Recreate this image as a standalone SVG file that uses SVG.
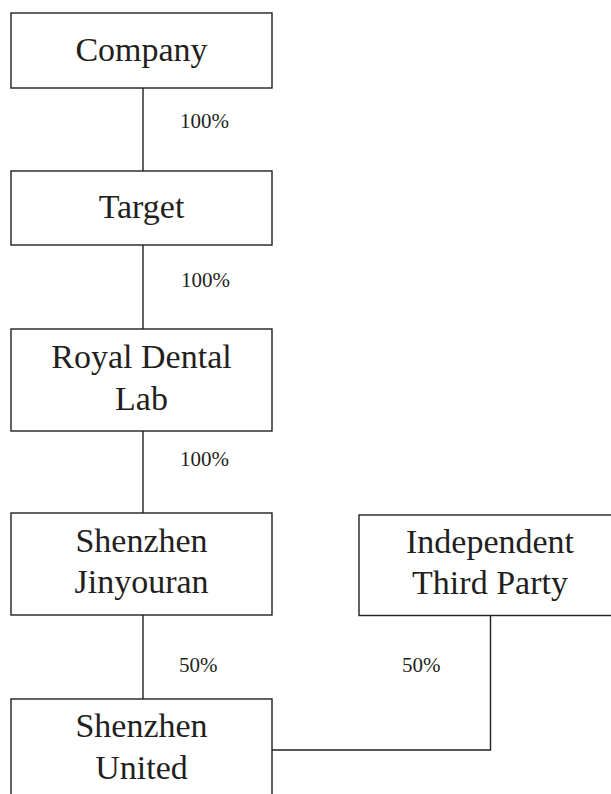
<svg xmlns="http://www.w3.org/2000/svg" width="611" height="794" viewBox="0 0 611 794">
<style>
.box{fill:#fff;stroke:#231f20;stroke-width:1.4}
.ln{fill:none;stroke:#231f20;stroke-width:1.4}
.t{font-family:"Liberation Serif","Times New Roman",serif;font-size:34px;fill:#231f20;text-anchor:middle}
.p{font-family:"Liberation Serif","Times New Roman",serif;font-size:21px;fill:#231f20}
</style>
<rect width="611" height="794" fill="#fff"/>
<g id="connectors">
<line class="ln" x1="143" y1="88" x2="143" y2="171"/>
<line class="ln" x1="143" y1="245" x2="143" y2="329"/>
<line class="ln" x1="143" y1="431" x2="143" y2="513"/>
<line class="ln" x1="143" y1="615" x2="143" y2="699"/>
<polyline class="ln" points="272,750 490.5,750 490.5,615.5"/>
<text class="p" x="180" y="128">100%</text>
<text class="p" x="181" y="287">100%</text>
<text class="p" x="180" y="466">100%</text>
<text class="p" x="179" y="672">50%</text>
<text class="p" x="402" y="672">50%</text>
</g>
<g id="company">
<rect class="box" x="11" y="13" width="261" height="75"/>
<text class="t" x="141.5" y="61">Company</text>
</g>
<g id="target">
<rect class="box" x="11" y="171" width="261" height="74"/>
<text class="t" x="141.5" y="218">Target</text>
</g>
<g id="royal">
<rect class="box" x="11" y="329" width="261" height="102"/>
<text class="t" x="141.5" y="368">Royal Dental</text>
<text class="t" x="141.5" y="410">Lab</text>
</g>
<g id="jinyouran">
<rect class="box" x="11" y="513" width="261" height="102"/>
<text class="t" x="141.5" y="552">Shenzhen</text>
<text class="t" x="141.5" y="593">Jinyouran</text>
</g>
<g id="independent">
<rect class="box" x="359" y="515" width="262" height="100.5"/>
<text class="t" x="490" y="553">Independent</text>
<text class="t" x="490" y="594">Third Party</text>
</g>
<g id="united">
<rect class="box" x="11" y="699" width="261" height="110"/>
<text class="t" x="141.5" y="737">Shenzhen</text>
<text class="t" x="141.5" y="779">United</text>
</g>
</svg>
